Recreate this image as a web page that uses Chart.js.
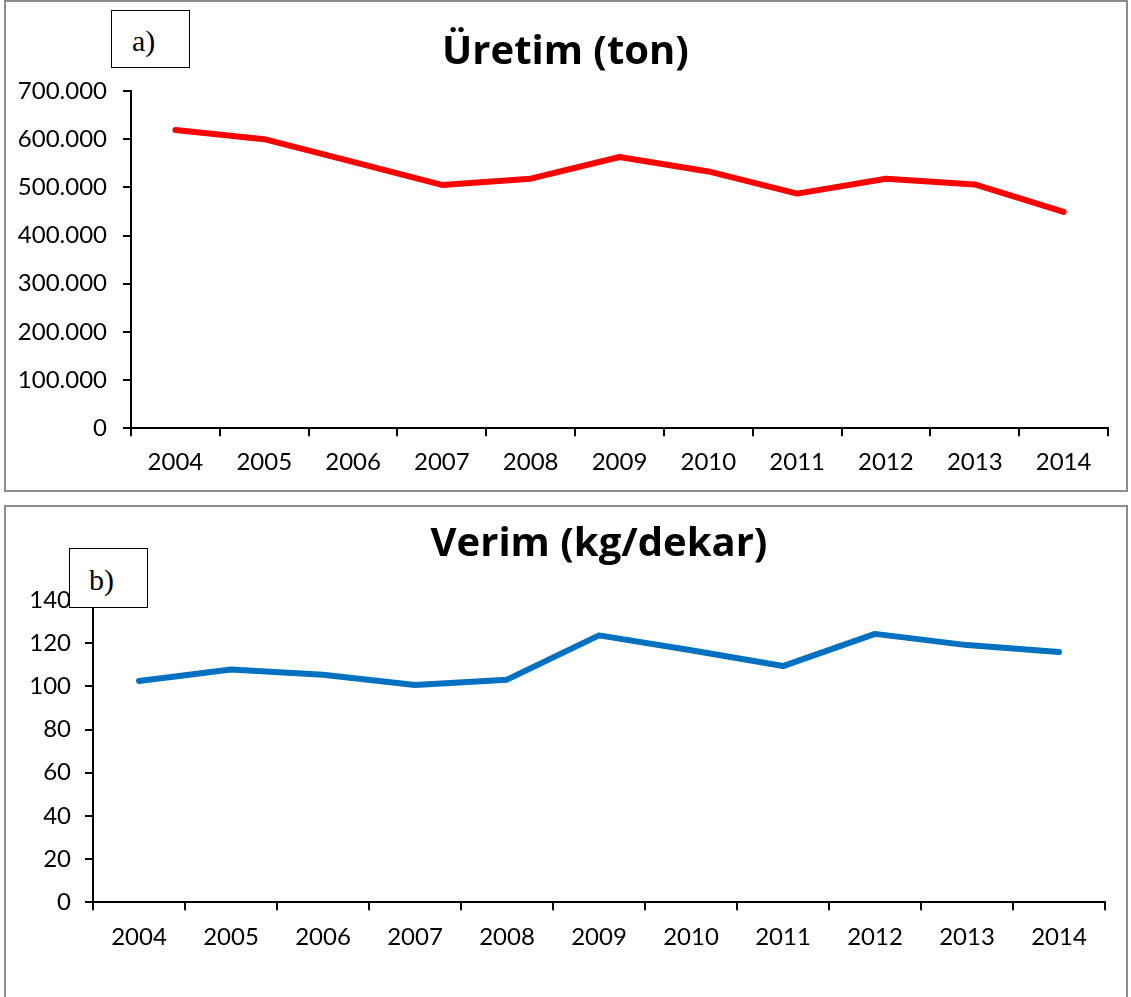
<!DOCTYPE html>
<html>
<head>
<meta charset="utf-8">
<script src="https://cdn.jsdelivr.net/npm/chart.js@4.4.1/dist/chart.umd.min.js"></script>
<style>
    body { margin: 0; background: #fff; width: 1131px; height: 997px; overflow: hidden; position: relative; }
    .frame { position: absolute; box-sizing: border-box; border: 2px solid #8c8c8c; background: #fff; }
    canvas { position: absolute; left: 0; }
    .tag {
        position: absolute; box-sizing: border-box; border: 1.5px solid #000; background: #fff;
        font-family: "Liberation Serif", "DejaVu Serif", serif; font-size: 30px; line-height: 1; color: #000;
    }
</style>
</head>
<body>
<div class="frame" style="left:4px;top:0;width:1124px;height:492px"></div>
<div class="frame" style="left:4px;top:505px;width:1124px;height:500px"></div>
<canvas id="uretim-canvas" width="1131" height="492" style="top:0"></canvas>
<canvas id="verim-canvas" width="1131" height="492" style="top:505px"></canvas>
<div class="tag" style="left:111px;top:10px;width:79px;height:58px;padding:15px 0 0 20px">a)</div>
<div class="tag" style="left:69px;top:548px;width:79px;height:60px;padding:16px 0 0 19px">b)</div>

<script>
const years = ['2004', '2005', '2006', '2007', '2008', '2009', '2010', '2011', '2012', '2013', '2014'];

// Üretim (ton)
const uretim = [619000, 600000, 553000, 505000, 518000, 563000, 533000, 487000, 518000, 506000, 449000];
const uretimMax = 700000;
const uretimStep = 100000;

// Verim (kg/dekar)
const verim = [102.5, 107.8, 105.4, 100.6, 103.1, 123.6, 116.7, 109.4, 124.3, 119.1, 115.9];
const verimMax = 140;
const verimStep = 20;

const FONT = 'Lato, "Open Sans", sans-serif';
const TITLE_FONT = '"Open Sans", Lato, sans-serif';

// 700000 -> "700.000"
function trNumber(v) {
    return String(v).replace(/\B(?=(\d{3})+(?!\d))/g, '.');
}

function makeChart(canvas, opts) {
    return new Chart(canvas, {
        type: 'line',
        data: {
            labels: years,
            datasets: [{
                data: opts.values,
                borderColor: opts.color,
                borderWidth: 6,
                borderCapStyle: 'round',
                borderJoinStyle: 'round',
                pointRadius: 0,
                tension: 0,
                fill: false,
            }]
        },
        options: {
            responsive: false,
            devicePixelRatio: 1,
            animation: false,
            layout: {
                padding: {left: 0, right: opts.padRight, top: 0, bottom: opts.padBottom}
            },
            plugins: {
                legend: {display: false},
                tooltip: {enabled: false},
                title: {
                    display: true,
                    text: opts.title,
                    fullSize: opts.titleFull,
                    color: '#000',
                    font: {family: TITLE_FONT, size: 40, weight: 'bold', lineHeight: 1.2},
                    padding: opts.titlePad,
                }
            },
            scales: {
                x: {
                    offset: true,
                    // keep room on the right without moving the title off-centre
                    afterFit: (scale) => { scale.paddingRight = Math.max(scale.paddingRight, opts.axisRight); },
                    grid: {
                        offset: true,
                        drawOnChartArea: false,
                        color: '#000',
                        lineWidth: 2,
                        tickLength: 8,
                    },
                    border: {display: true, color: '#000', width: 2},
                    ticks: {
                        color: '#000',
                        padding: opts.xPad,
                        maxRotation: 0,
                        autoSkip: false,
                        font: {family: FONT, size: 24, lineHeight: 1.2},
                    }
                },
                y: {
                    min: 0,
                    max: opts.max,
                    afterFit: (scale) => { scale.width = opts.axisLeft; },
                    grid: {
                        drawOnChartArea: false,
                        color: '#000',
                        lineWidth: 2,
                        tickLength: 8,
                    },
                    border: {display: true, color: '#000', width: 2},
                    ticks: {
                        stepSize: opts.step,
                        color: '#000',
                        padding: opts.yPad,
                        font: {family: FONT, size: 24, lineHeight: 1.2},
                        callback: (v) => trNumber(v),
                    }
                }
            }
        }
    });
}

const uretimChart = makeChart(document.querySelector('#uretim-canvas'), {
    values: uretim,
    color: '#ff0000',
    title: 'Üretim (ton)',
    titleFull: true,
    titlePad: {top: 29, bottom: 14},
    max: uretimMax,
    step: uretimStep,
    axisLeft: 131,
    axisRight: 23,
    padRight: 0,
    padBottom: 3,
    xPad: 12,
    yPad: 16,
});

const verimChart = makeChart(document.querySelector('#verim-canvas'), {
    values: verim,
    color: '#0070c0',
    title: 'Verim (kg/dekar)',
    titleFull: false,
    titlePad: {top: 16, bottom: 31},
    max: verimMax,
    step: verimStep,
    axisLeft: 93,
    axisRight: 0,
    padRight: 26,
    padBottom: 32,
    xPad: 13,
    yPad: 14,
});
</script>
</body>
</html>
